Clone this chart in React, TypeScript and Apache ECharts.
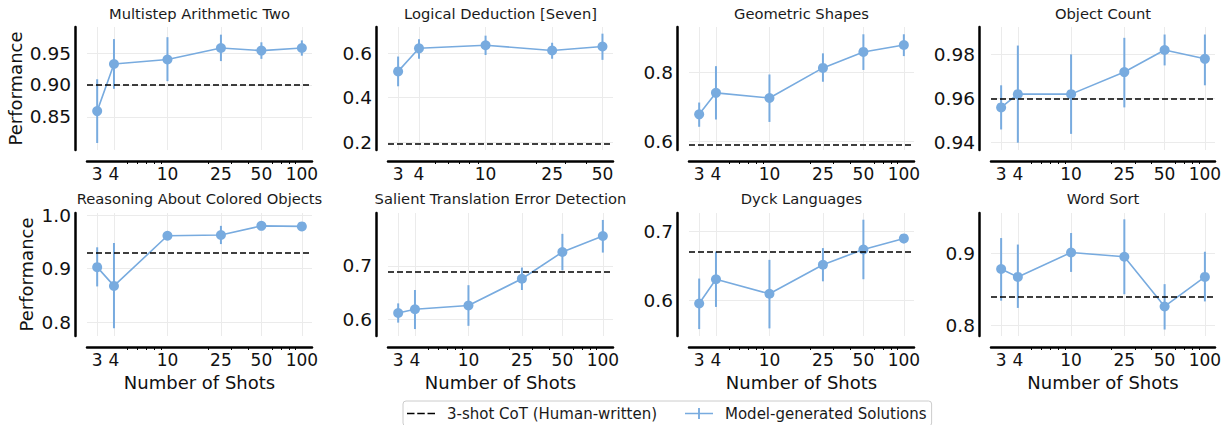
import React, { useEffect, useRef } from "react";
import * as echarts from "echarts";

const FONT = "'DejaVu Sans', sans-serif";
const BLUE = "#78abdf";
const BASE_NAME = "3-shot CoT (Human-written)";
const MODEL_NAME = "Model-generated Solutions";

// ---------- data ----------
const titles = [
  "Multistep Arithmetic Two",
  "Logical Deduction [Seven]",
  "Geometric Shapes",
  "Object Count",
  "Reasoning About Colored Objects",
  "Salient Translation Error Detection",
  "Dyck Languages",
  "Word Sort",
];

const shotsFull = [3, 4, 10, 25, 50, 100];
const shotsLogical = [3, 4, 10, 25, 50];

const multistepMean = [0.859, 0.933, 0.94, 0.958, 0.954, 0.958];
const multistepLow = [0.809, 0.894, 0.906, 0.9375, 0.941, 0.946];
const multistepHigh = [0.909, 0.972, 0.975, 0.979, 0.967, 0.97];
const multistepBaseline = 0.901;

const logicalMean = [0.518, 0.622, 0.636, 0.612, 0.63];
const logicalLow = [0.451, 0.575, 0.592, 0.575, 0.57];
const logicalHigh = [0.585, 0.663, 0.679, 0.647, 0.688];
const logicalBaseline = 0.194;

const geometricMean = [0.679, 0.741, 0.726, 0.813, 0.859, 0.879];
const geometricLow = [0.643, 0.664, 0.657, 0.773, 0.807, 0.847];
const geometricHigh = [0.713, 0.818, 0.794, 0.855, 0.91, 0.91];
const geometricBaseline = 0.595;

const objectMean = [0.956, 0.962, 0.962, 0.972, 0.982, 0.978];
const objectLow = [0.946, 0.94, 0.944, 0.956, 0.975, 0.966];
const objectHigh = [0.966, 0.984, 0.98, 0.9875, 0.989, 0.989];
const objectBaseline = 0.958;

const coloredMean = [0.903, 0.868, 0.9615, 0.963, 0.98, 0.979];
const coloredLow = [0.867, 0.789, 0.956, 0.946, 0.973, 0.975];
const coloredHigh = [0.94, 0.948, 0.966, 0.98, 0.987, 0.983];
const coloredBaseline = 0.925;

const salientMean = [0.612, 0.619, 0.626, 0.676, 0.726, 0.756];
const salientLow = [0.594, 0.582, 0.588, 0.655, 0.692, 0.725];
const salientHigh = [0.63, 0.655, 0.664, 0.697, 0.76, 0.786];
const salientBaseline = 0.691;

const dyckMean = [0.596, 0.631, 0.61, 0.652, 0.674, 0.69];
const dyckLow = [0.559, 0.591, 0.56, 0.628, 0.631, 0.683];
const dyckHigh = [0.632, 0.671, 0.659, 0.676, 0.717, 0.696];
const dyckBaseline = 0.672;

const wordMean = [0.878, 0.867, 0.901, 0.895, 0.826, 0.867];
const wordLow = [0.834, 0.824, 0.874, 0.843, 0.794, 0.833];
const wordHigh = [0.921, 0.912, 0.928, 0.947, 0.857, 0.902];
const wordBaseline = 0.838;

// tick labels
const xMajorFull = [3, 4, 10, 25, 50, 100];
const xMajorLogical = [3, 4, 10, 25, 50];
const xMinorFull = [5, 6, 7, 8, 9, 20, 30, 40, 60, 70, 80, 90];
const xMinorLogical = [5, 6, 7, 8, 9, 20, 30, 40];

const yTicks = [
  [0.85, 0.9, 0.95],
  [0.2, 0.4, 0.6],
  [0.6, 0.8],
  [0.94, 0.96, 0.98],
  [0.8, 0.9, 1.0],
  [0.6, 0.7],
  [0.6, 0.7],
  [0.8, 0.9],
];
const yDecimals = [2, 1, 1, 2, 1, 1, 1, 1];
const yRanges = [
  [0.798, 0.991],
  [0.164, 0.718],
  [0.576, 0.931],
  [0.9367, 0.9924],
  [0.7745, 1.004],
  [0.569, 0.799],
  [0.549, 0.7267],
  [0.785, 0.9558],
];
const xRangeFull = [2.52, 119];
const xRangeLogical = [2.61, 57.8];

const panels = [
  { shots: shotsFull, mean: multistepMean, low: multistepLow, high: multistepHigh, base: multistepBaseline },
  { shots: shotsLogical, mean: logicalMean, low: logicalLow, high: logicalHigh, base: logicalBaseline },
  { shots: shotsFull, mean: geometricMean, low: geometricLow, high: geometricHigh, base: geometricBaseline },
  { shots: shotsFull, mean: objectMean, low: objectLow, high: objectHigh, base: objectBaseline },
  { shots: shotsFull, mean: coloredMean, low: coloredLow, high: coloredHigh, base: coloredBaseline },
  { shots: shotsFull, mean: salientMean, low: salientLow, high: salientHigh, base: salientBaseline },
  { shots: shotsFull, mean: dyckMean, low: dyckLow, high: dyckHigh, base: dyckBaseline },
  { shots: shotsFull, mean: wordMean, low: wordLow, high: wordHigh, base: wordBaseline },
];

// ---------- layout ----------
const COL_LEFT = [87, 388, 689, 991];
const COL_W = [225, 225, 225, 224];
const ROW_TOP = [27, 213];
const ROW_H = 123;
const TITLE_TOP = [6, 191];
const YNAME_GAP = [51, 40];

const DASH_ICON = "path://M0,5.2h7.5v1.6h-7.5z M10.25,5.2h7.5v1.6h-7.5z M20.5,5.2h7.5v1.6h-7.5z M0,0h0.01v12h-0.01z";
const ERR_ICON = "path://M0,5.2h30v1.6h-30z M14,0h2v12h-2z";

function buildOption() {
  const grid: any[] = [];
  const xAxis: any[] = [];
  const yAxis: any[] = [];
  const series: any[] = [];
  const title: any[] = [];

  panels.forEach((p, i) => {
    const row = Math.floor(i / 4);
    const col = i % 4;
    const isLogical = p.shots.length === 5;
    const xr = isLogical ? xRangeLogical : xRangeFull;
    grid.push({
      left: COL_LEFT[col],
      top: ROW_TOP[row],
      width: COL_W[col],
      height: ROW_H,
      containLabel: false,
      outerBoundsMode: "none",
    });
    title.push({
      text: titles[i],
      left: COL_LEFT[col] + COL_W[col] / 2,
      top: TITLE_TOP[row],
      textAlign: "center",
      padding: 0,
      textStyle: { fontSize: 14.7, fontWeight: "normal", color: "#1a1a1a", fontFamily: FONT },
    });
    // main x axis: labels + grid lines
    xAxis.push({
      type: "log",
      logBase: 10,
      gridIndex: i,
      min: xr[0],
      max: xr[1],
      position: "bottom",
      offset: 11,
      axisLine: { show: false, onZero: false },
      axisTick: { show: false, customValues: isLogical ? xMajorLogical : xMajorFull },
      axisLabel: {
        customValues: isLogical ? xMajorLogical : xMajorFull,
        formatter: (v: number) => String(Math.round(v)),
        fontSize: 17,
        color: "#111",
        fontFamily: FONT,
        margin: 4,
      },
      splitLine: { show: true, lineStyle: { color: "#ebebeb", width: 1 } },
      minorTick: { show: false },
      minorSplitLine: { show: false },
      name: row === 1 ? "Number of Shots" : "",
      nameLocation: "middle",
      nameGap: 26,
      nameTextStyle: { fontSize: 18, color: "#111", fontFamily: FONT },
    });
    // minor x axis: spine + minor ticks
    xAxis.push({
      type: "log",
      logBase: 10,
      gridIndex: i,
      min: xr[0],
      max: xr[1],
      position: "bottom",
      offset: 11,
      axisLine: { show: true, onZero: false, lineStyle: { color: "#000", width: 2.5 } },
      axisTick: {
        show: true,
        length: 3,
        customValues: isLogical ? xMinorLogical : xMinorFull,
        lineStyle: { color: "#000", width: 1 },
      },
      axisLabel: { show: false },
      splitLine: { show: false },
    });
    yAxis.push({
      type: "value",
      gridIndex: i,
      min: yRanges[i][0],
      max: yRanges[i][1],
      offset: 12,
      axisLine: { show: true, onZero: false, lineStyle: { color: "#000", width: 2.5 } },
      axisTick: { show: false, customValues: yTicks[i] },
      axisLabel: {
        customValues: yTicks[i],
        formatter: ((d: number) => (v: number) => v.toFixed(d))(yDecimals[i]),
        fontSize: 18.5,
        color: "#111",
        fontFamily: FONT,
        margin: 4,
      },
      splitLine: { show: true, lineStyle: { color: "#ebebeb", width: 1 } },
      name: col === 0 ? "Performance" : "",
      nameLocation: "middle",
      nameRotate: 90,
      nameGap: YNAME_GAP[row],
      nameTextStyle: { fontSize: 18, color: "#111", fontFamily: FONT },
    });

    series.push({
      name: BASE_NAME,
      type: "line",
      xAxisIndex: 2 * i,
      yAxisIndex: i,
      data: [],
      symbol: "none",
      itemStyle: { color: "#000" },
      lineStyle: { color: "#000", width: 1.6, type: [6, 3] },
      markLine: {
        silent: true,
        symbol: ["none", "none"],
        label: { show: false },
        lineStyle: { color: "#000", width: 1.6, type: [6, 3] },
        emphasis: { disabled: true },
        data: [{ yAxis: p.base }],
      },
    });
    series.push({
      name: MODEL_NAME,
      type: "custom",
      xAxisIndex: 2 * i,
      yAxisIndex: i,
      itemStyle: { color: BLUE },
      encode: { x: 0, y: [1, 2] },
      data: p.shots.map((s, j) => [s, p.low[j], p.high[j]]),
      renderItem: (params: any, api: any) => {
        const lo = api.coord([api.value(0), api.value(1)]);
        const hi = api.coord([api.value(0), api.value(2)]);
        return {
          type: "line",
          shape: { x1: lo[0], y1: lo[1], x2: hi[0], y2: hi[1] },
          style: { stroke: BLUE, lineWidth: 2 },
        };
      },
      z: 2,
    });
    series.push({
      name: MODEL_NAME,
      type: "line",
      xAxisIndex: 2 * i,
      yAxisIndex: i,
      data: p.shots.map((s, j) => [s, p.mean[j]]),
      symbol: "circle",
      symbolSize: 10,
      showSymbol: true,
      itemStyle: { color: BLUE },
      lineStyle: { color: BLUE, width: 1.6 },
      z: 3,
    });
  });

  return {
    animation: false,
    backgroundColor: "#fff",
    textStyle: { fontFamily: FONT },
    title,
    grid,
    xAxis,
    yAxis,
    series,
    legend: {
      left: 403,
      top: 401,
      orient: "horizontal",
      padding: [5, 5, 5, 4],
      itemGap: 28,
      itemWidth: 28,
      itemHeight: 12,
      borderColor: "#cccccc",
      borderWidth: 1,
      borderRadius: 3,
      selectedMode: false,
      textStyle: { fontSize: 15, color: "#1a1a1a", fontFamily: FONT, padding: [0, 0, 0, 7] },
      data: [
        { name: BASE_NAME, icon: DASH_ICON, itemStyle: { color: "#000" } },
        { name: MODEL_NAME, icon: ERR_ICON, itemStyle: { color: BLUE } },
      ],
    },
  };
}

export default function App() {
  const ref = useRef<HTMLDivElement>(null);
  useEffect(() => {
    if (!ref.current) return;
    const chart = echarts.init(ref.current, null, { renderer: "svg" });
    chart.setOption(buildOption() as any);
    return () => chart.dispose();
  }, []);
  return (
    <div
      ref={ref}
      style={{ position: "fixed", left: 0, top: 0, width: 1228, height: 425, background: "#fff" }}
    />
  );
}
